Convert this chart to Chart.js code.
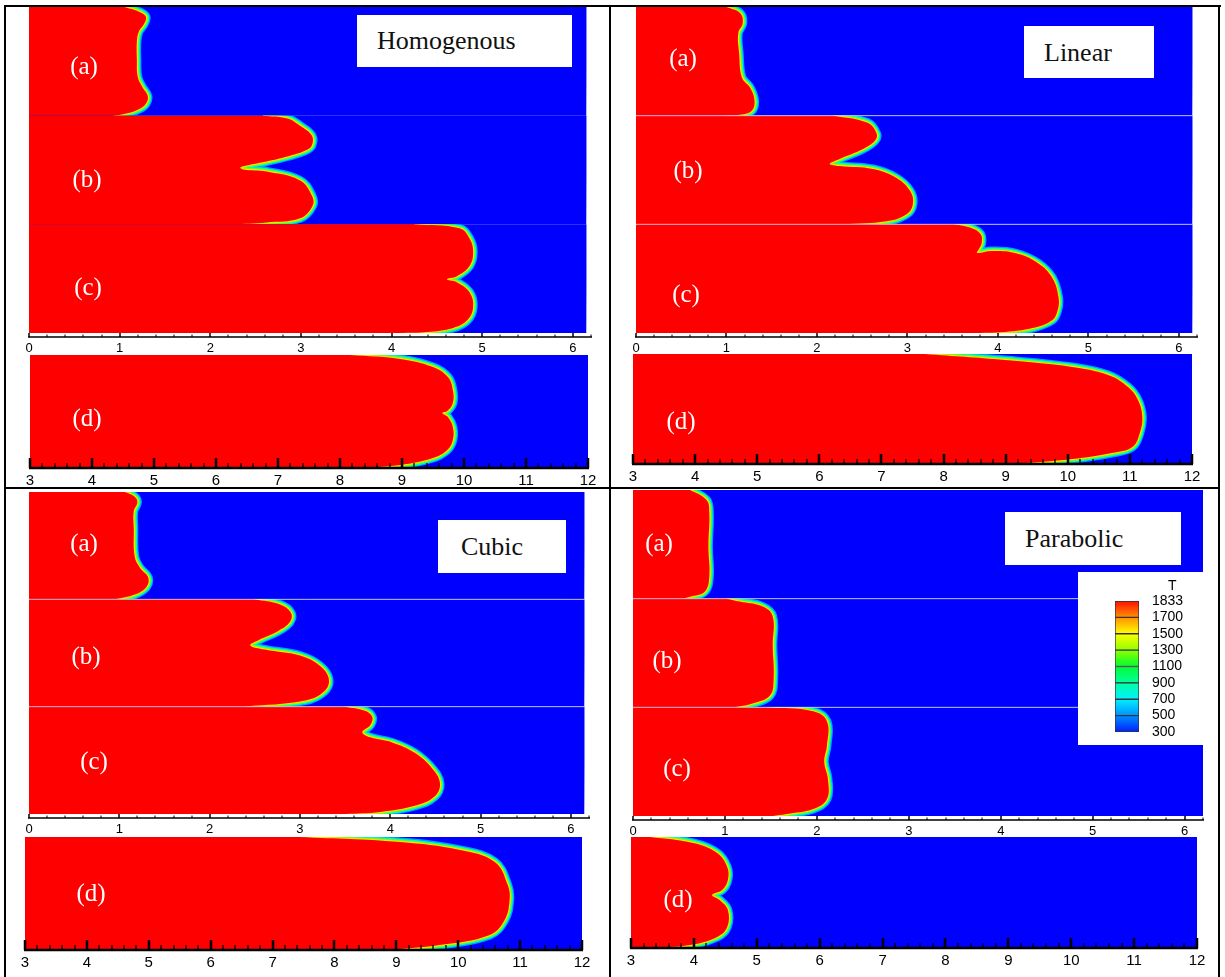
<!DOCTYPE html>
<html>
<head>
<meta charset="utf-8">
<title>Temperature fronts</title>
<script src="https://cdn.jsdelivr.net/npm/chart.js@4.4.1/dist/chart.umd.min.js"></script>
<style>
  body { margin: 0; background: #fff; }
  #fig { position: relative; width: 1225px; height: 977px; overflow: hidden; background: #fff; }
  .panel { position: absolute; }
  .rule { position: absolute; background: #000; }
  .tag { position: absolute; color: #fff; font: 25px "Liberation Serif", serif; line-height: 25px; transform: translate(-50%, -50%); white-space: nowrap; }
  .titlebox { position: absolute; background: #fff; }
  .title { position: absolute; font: 26px "Liberation Serif", serif; line-height: 26px; color: #111; white-space: nowrap; }
  .tlabel { position: absolute; font: 14px "Liberation Sans", sans-serif; color: #000; }
</style>
</head>
<body>
<div id="fig"></div>
<script>
// ---- data ----
const quadTitles = ["Homogenous", "Linear", "Cubic", "Parabolic"];
const stripLabels = ["(a)", "(b)", "(c)", "(d)"];
const topTicks = [0, 1, 2, 3, 4, 5, 6];
const bottomTicks = [3, 4, 5, 6, 7, 8, 9, 10, 11, 12];
const legendLevels = [300, 500, 700, 900, 1100, 1300, 1500, 1700, 1833];
const legendTitle = "T";

// melt fronts: [x, y] with y = 1 at the top of a strip and 0 at its bottom
const homogenousA = [[1.05,1],[1.22,0.955],[1.29,0.91],[1.27,0.845],[1.21,0.77],[1.19,0.68],[1.19,0.52],[1.20,0.355],[1.25,0.264],[1.31,0.18],[1.29,0.11],[1.20,0.055],[1.06,0.018],[0.93,0]];
const homogenousB = [[2.58,1],[2.85,0.975],[2.99,0.908],[3.12,0.817],[3.12,0.725],[3.05,0.679],[2.85,0.624],[2.62,0.578],[2.40,0.541],[2.33,0.522],[2.36,0.505],[2.62,0.486],[2.99,0.404],[3.12,0.266],[3.13,0.174],[2.99,0.055],[2.62,0.018],[2.25,0]];
const homogenousC = [[4.25,1],[4.75,0.963],[4.86,0.869],[4.90,0.748],[4.86,0.617],[4.72,0.523],[4.61,0.495],[4.72,0.467],[4.86,0.374],[4.90,0.243],[4.84,0.121],[4.68,0.047],[4.39,0.01],[3.95,0]];
const homogenousD = [[8.16,1],[8.97,0.965],[9.5,0.894],[9.74,0.805],[9.82,0.69],[9.82,0.575],[9.73,0.504],[9.65,0.487],[9.74,0.451],[9.82,0.363],[9.82,0.248],[9.73,0.159],[9.5,0.088],[8.97,0.027],[8.21,0]];

const linearA = [[1.0,1],[1.15,0.944],[1.18,0.852],[1.13,0.759],[1.14,0.574],[1.17,0.352],[1.26,0.259],[1.31,0.139],[1.28,0.046],[1.15,0.009],[0.96,0]];
const linearB = [[2.18,1],[2.56,0.935],[2.66,0.833],[2.64,0.769],[2.51,0.694],[2.25,0.602],[2.14,0.556],[2.25,0.537],[2.62,0.509],[2.88,0.426],[3.03,0.306],[3.06,0.185],[2.99,0.093],[2.77,0.028],[2.29,0]];
const linearC = [[3.52,1],[3.71,0.964],[3.81,0.909],[3.82,0.827],[3.79,0.773],[3.77,0.736],[3.93,0.755],[4.19,0.736],[4.44,0.645],[4.60,0.509],[4.67,0.327],[4.66,0.209],[4.60,0.118],[4.38,0.045],[4.08,0.01],[3.71,0]];
const linearD = [[7.70,1],[8.99,0.945],[10.07,0.882],[10.65,0.809],[10.97,0.7],[11.13,0.582],[11.20,0.427],[11.16,0.282],[11.04,0.155],[10.71,0.1],[10.07,0.045],[9.15,0]];

const cubicA = [[1.06,1],[1.17,0.956],[1.2,0.903],[1.16,0.823],[1.16,0.664],[1.17,0.398],[1.23,0.292],[1.32,0.204],[1.30,0.115],[1.17,0.044],[0.95,0]];
const cubicB = [[2.5,1],[2.78,0.952],[2.90,0.876],[2.89,0.79],[2.76,0.705],[2.54,0.619],[2.45,0.571],[2.61,0.533],[3.0,0.476],[3.22,0.381],[3.32,0.257],[3.27,0.143],[3.06,0.057],[2.39,0]];
const cubicC = [[3.5,1],[3.72,0.962],[3.80,0.905],[3.78,0.829],[3.69,0.762],[3.78,0.714],[4.02,0.667],[4.27,0.571],[4.46,0.429],[4.55,0.286],[4.49,0.162],[4.27,0.076],[3.89,0.019],[3.5,0]];
const cubicD = [[7.44,1],[9.06,0.956],[10.03,0.885],[10.59,0.779],[10.80,0.575],[10.83,0.442],[10.75,0.265],[10.51,0.133],[9.70,0.044],[8.9,0]];

const parabolicA = [[0.62,1],[0.80,0.908],[0.83,0.789],[0.82,0.477],[0.83,0.202],[0.78,0.064],[0.62,0.018],[0.54,0]];
const parabolicB = [[1.02,1],[1.16,0.973],[1.41,0.927],[1.52,0.836],[1.52,0.564],[1.53,0.264],[1.49,0.109],[1.30,0.036],[1.09,0]];
const parabolicC = [[1.46,1],[1.96,0.963],[2.11,0.87],[2.11,0.648],[2.08,0.5],[2.12,0.343],[2.11,0.157],[1.96,0.065],[1.67,0.019],[1.52,0]];
const parabolicD = [[3.30,1],[3.99,0.946],[4.37,0.856],[4.53,0.73],[4.54,0.613],[4.45,0.523],[4.29,0.477],[4.41,0.432],[4.54,0.342],[4.53,0.189],[4.37,0.099],[3.94,0.027],[3.30,0]];

// ---- styles ----
const RED = "#ff0000";
const BLUE = "#0000ff";
const NONE = "rgba(0,0,0,0)";
const SEPARATOR = "rgba(235,235,255,0.75)";
// colour band round each front, outermost first (the red fill covers the inner half)
const edgeLayers = [["#00a0ff", 9], ["#00ffb0", 6.5], ["#80ff00", 4], ["#ffe000", 2]];
const colorStops = ["#0020ff", "#0090ff", "#00f0ff", "#00ffa0", "#00ff30", "#90ff00", "#ffff00", "#ff9000", "#ff1000"];
const SMOOTH = 0.4;

const fig = document.getElementById("fig");

// axis line with inward ticks, drawn through the x scale
const axisTicks = {
  id: "axisTicks",
  afterDatasetsDraw(chart, args, o) {
    if (!o || !o.minor) return;
    const sx = chart.scales.x, ctx = chart.ctx, yb = chart.chartArea.bottom;
    ctx.save();
    ctx.strokeStyle = "#000";
    ctx.lineWidth = o.lineWidth;
    ctx.beginPath();
    ctx.moveTo(sx.getPixelForValue(o.from) - 1, yb);
    ctx.lineTo(sx.getPixelForValue(o.to) + 1, yb);
    ctx.stroke();
    const n = Math.round((o.to - o.from) / o.minor);
    for (let i = 0; i <= n; i++) {
      const v = o.from + i * o.minor;
      const major = Math.abs(v - Math.round(v)) < 1e-6;
      const px = Math.round(sx.getPixelForValue(v));
      ctx.lineWidth = major ? o.majorWidth : o.minorWidth;
      ctx.beginPath();
      ctx.moveTo(px, yb);
      ctx.lineTo(px, yb - (major ? o.majorLen : o.minorLen));
      ctx.stroke();
    }
    ctx.restore();
  }
};

function stripChart(box, opts) {
  const pad = 15, padTop = 4;
  const w = box.r - box.l + 2 * pad;
  const h = box.b - box.t + padTop + opts.axisH;
  const wrap = document.createElement("div");
  wrap.className = "panel";
  Object.assign(wrap.style, { left: (box.l - pad) + "px", top: (box.t - padTop) + "px", width: w + "px", height: h + "px" });
  const cv = document.createElement("canvas");
  cv.width = w; cv.height = h;
  wrap.appendChild(cv);
  fig.appendChild(wrap);

  const n = opts.fronts.length;
  const unit = (box.b - box.t - opts.gap) / n;
  const datasets = [];
  opts.fronts.forEach((front, i) => {
    const off = n - 1 - i;
    const clip = { left: 0, right: 0, top: -(i * unit), bottom: -((n - 1 - i) * unit + opts.gap) };
    const pts = front.map(p => ({ x: p[0], y: off + p[1] }));
    const first = pts[0], last = pts[pts.length - 1];
    datasets.push({
      data: [{ x: opts.xMin, y: off }, { x: opts.xEnd, y: off }, { x: opts.xEnd, y: off + 1 }, { x: opts.xMin, y: off + 1 }],
      fill: "shape", backgroundColor: BLUE, borderColor: NONE, borderWidth: 0, tension: 0.001
    });
    edgeLayers.forEach(([c, lw]) => datasets.push({
      data: pts, fill: false, borderColor: c, borderWidth: lw, tension: SMOOTH, clip
    }));
    // red melt: strip's left edge, then the front; short lead-in points keep the curve inside the strip
    datasets.push({
      data: [{ x: opts.xMin, y: off + 1 }, { x: first.x - 0.02, y: first.y }, ...pts,
             { x: last.x - 0.02, y: last.y }, { x: opts.xMin, y: off }],
      fill: "shape", backgroundColor: RED, borderColor: NONE, borderWidth: 0, tension: SMOOTH
    });
  });
  // thin light seams between stacked strips
  if (opts.seams) {
    for (let s = 1; s < n; s++) {
      datasets.push({ data: [{ x: opts.xMin, y: s }, { x: opts.xEnd, y: s }], fill: false,
                      borderColor: SEPARATOR, borderWidth: 1, tension: 0 });
    }
  }
  datasets.forEach((d, k) => { d.order = -k; d.pointRadius = 0; });

  return new Chart(cv, {
    type: "line",
    data: { datasets },
    options: {
      responsive: false,
      animation: false,
      devicePixelRatio: 1,
      events: [],
      layout: { padding: { left: pad, right: pad, top: padTop, bottom: 0 } },
      plugins: {
        legend: { display: false },
        tooltip: { enabled: false },
        axisTicks: { from: opts.from, to: opts.to, minor: 0.2, majorLen: opts.majorLen, minorLen: opts.minorLen,
                     lineWidth: opts.lineW, majorWidth: opts.majorW, minorWidth: opts.minorW }
      },
      scales: {
        x: {
          type: "linear", min: opts.xMin, max: opts.xMax,
          grid: { display: false, drawTicks: false },
          border: { display: false },
          afterBuildTicks: s => { s.ticks = opts.ticks.map(v => ({ value: v })); },
          afterFit: s => { s.height = opts.axisH; },
          ticks: { color: "#000", padding: 4, maxRotation: 0, autoSkip: false,
                   font: { family: "Liberation Sans", size: opts.fontSize } }
        },
        y: { type: "linear", display: false, min: -opts.gap / unit, max: n }
      }
    },
    plugins: [axisTicks]
  });
}

// quadrant layout (pixel boxes of the plotting areas)
const quads = [
  { fronts: [homogenousA, homogenousB, homogenousC], d: homogenousD, xEnd: 6.15, seams: false,
    top: { l: 29, r: 591, t: 7, b: 337 }, bot: { l: 30, r: 588, t: 355, b: 468 } },
  { fronts: [linearA, linearB, linearC], d: linearD, xEnd: 6.15, seams: true,
    top: { l: 636, r: 1197, t: 7, b: 337 }, bot: { l: 633, r: 1192, t: 354, b: 464 } },
  { fronts: [cubicA, cubicB, cubicC], d: cubicD, xEnd: 6.15, seams: true,
    top: { l: 29, r: 589, t: 492, b: 818 }, bot: { l: 25, r: 582, t: 837, b: 950 } },
  { fronts: [parabolicA, parabolicB, parabolicC], d: parabolicD, xEnd: 6.2, seams: true,
    top: { l: 633, r: 1203, t: 490, b: 820 }, bot: { l: 631, r: 1197, t: 837, b: 948 } }
];

quads.forEach(q => {
  stripChart(q.top, { fronts: q.fronts, xMin: 0, xMax: 6.2, xEnd: q.xEnd, gap: 4, ticks: topTicks, seams: q.seams,
    axisH: 22, fontSize: 13, from: 0, to: 6.2, majorLen: 4, minorLen: 2.5, lineW: 1.5, majorW: 1.5, minorW: 1 });
  stripChart(q.bot, { fronts: [q.d], xMin: 3, xMax: 12, xEnd: 12, gap: 0, ticks: bottomTicks, seams: false,
    axisH: 24, fontSize: 15, from: 3, to: 12, majorLen: 10, minorLen: 5, lineW: 2.5, majorW: 2.5, minorW: 1.3 });
});

// strip tags
const tagPos = [
  [[84, 65], [87, 178], [88, 286], [87, 417]],
  [[683, 57], [688, 169], [686, 293], [681, 420]],
  [[84, 542], [86, 655], [94, 760], [91, 892]],
  [[659, 542], [667, 659], [677, 767], [678, 898]]
];
tagPos.forEach(list => list.forEach((p, i) => {
  const t = document.createElement("div");
  t.className = "tag";
  t.textContent = stripLabels[i];
  t.style.left = p[0] + "px"; t.style.top = p[1] + "px";
  fig.appendChild(t);
}));

// title boxes: [box l, t, w, h, text x, baseline]
const titlePos = [
  [357, 15, 215, 52, 377, 50],
  [1024, 26, 130, 52, 1044, 62],
  [438, 520, 128, 53, 461, 556],
  [1005, 512, 176, 53, 1025, 548]
];
titlePos.forEach((p, i) => {
  const b = document.createElement("div");
  b.className = "titlebox";
  Object.assign(b.style, { left: p[0] + "px", top: p[1] + "px", width: p[2] + "px", height: p[3] + "px" });
  fig.appendChild(b);
  const t = document.createElement("div");
  t.className = "title";
  t.textContent = quadTitles[i];
  t.style.left = p[4] + "px"; t.style.top = (p[5] - 22) + "px";
  fig.appendChild(t);
});

// frame rules
[[4, 5, 1217, 2], [4, 5, 2, 972], [1218, 5, 2, 972], [609, 5, 2, 972], [4, 487, 1216, 2]].forEach(r => {
  const d = document.createElement("div");
  d.className = "rule";
  Object.assign(d.style, { left: r[0] + "px", top: r[1] + "px", width: r[2] + "px", height: r[3] + "px" });
  fig.appendChild(d);
});

// colour legend
const lb = document.createElement("div");
lb.className = "titlebox";
Object.assign(lb.style, { left: "1078px", top: "572px", width: "125px", height: "173px" });
fig.appendChild(lb);
const lt = document.createElement("div");
lt.className = "tlabel";
lt.textContent = legendTitle;
Object.assign(lt.style, { left: "1168px", top: "577px" });
fig.appendChild(lt);

(function legendChart() {
  const box = { l: 1115, r: 1139, t: 601, b: 732 };
  const padL = 2, padV = 24, axisW = 52;
  const w = padL + (box.r - box.l) + axisW, h = (box.b - box.t) + 2 * padV;
  const wrap = document.createElement("div");
  wrap.className = "panel";
  Object.assign(wrap.style, { left: (box.l - padL) + "px", top: (box.t - padV) + "px", width: w + "px", height: h + "px" });
  const cv = document.createElement("canvas");
  cv.width = w; cv.height = h;
  wrap.appendChild(cv);
  fig.appendChild(wrap);
  const bands = legendLevels.length - 1;
  const grad = c => {
    const a = c.chart.chartArea;
    if (!a) return "#f00";
    const g = c.chart.ctx.createLinearGradient(0, a.bottom, 0, a.top);
    colorStops.forEach((col, i) => g.addColorStop(i / (colorStops.length - 1), col));
    return g;
  };
  const datasets = [];
  for (let i = 0; i < bands; i++) {
    datasets.push({ data: [1], backgroundColor: grad, borderColor: "#333", borderWidth: 1, borderSkipped: false,
                    barPercentage: 1, categoryPercentage: 1 });
  }
  new Chart(cv, {
    type: "bar",
    data: { labels: [legendTitle], datasets },
    options: {
      responsive: false, animation: false, devicePixelRatio: 1, events: [],
      layout: { padding: { left: padL, right: 0, top: padV, bottom: padV } },
      plugins: { legend: { display: false }, tooltip: { enabled: false } },
      scales: {
        x: { display: false, stacked: true },
        y: {
          stacked: true, min: 0, max: bands, position: "right",
          grid: { display: false, drawTicks: false }, border: { display: false },
          afterBuildTicks: s => { s.ticks = legendLevels.map((v, i) => ({ value: i })); },
          afterFit: s => { s.width = axisW; },
          ticks: { color: "#000", padding: 13, autoSkip: false, font: { family: "Liberation Sans", size: 14 },
                   callback: v => legendLevels[v] }
        }
      }
    }
  });
})();
</script>
</body>
</html>
